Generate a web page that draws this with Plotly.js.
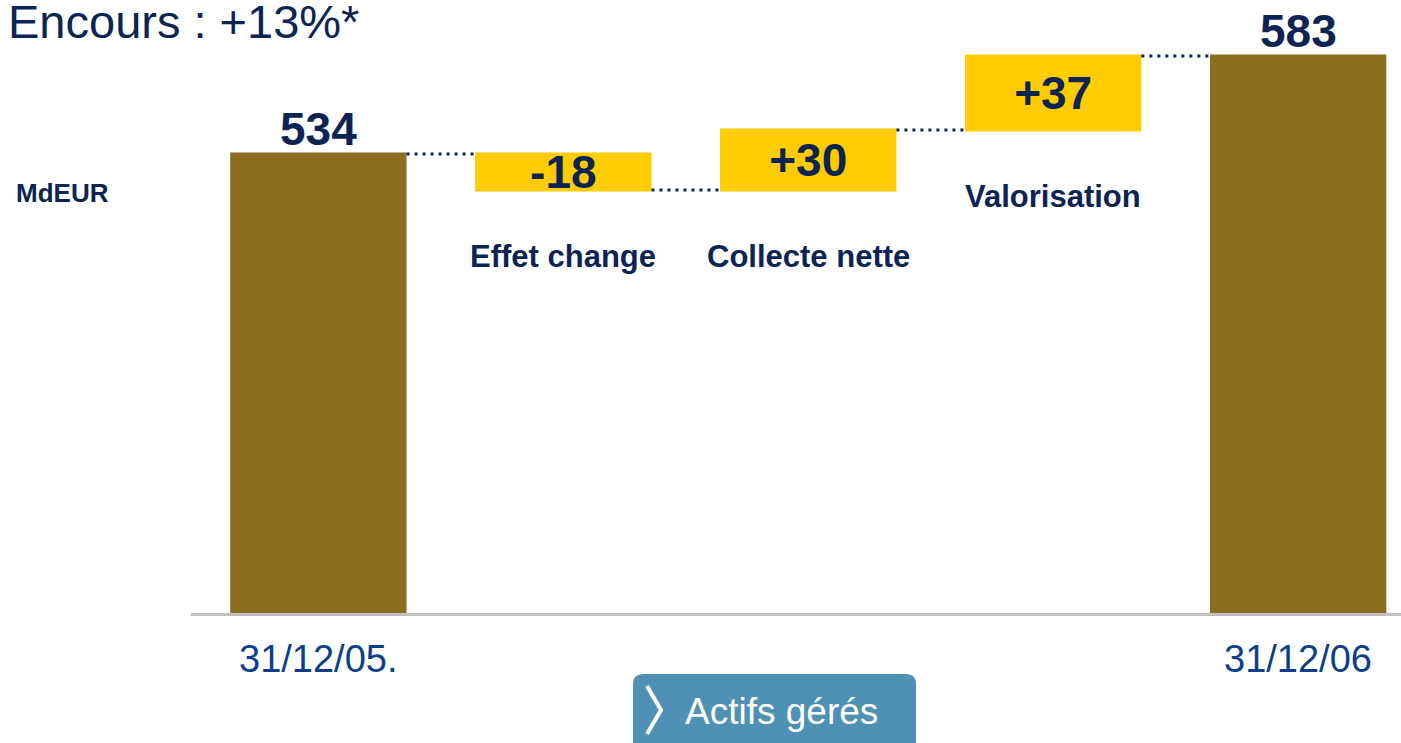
<!DOCTYPE html>
<html>
<head>
<meta charset="utf-8">
<script src="https://cdn.plot.ly/plotly-3.0.1.min.js"></script>
<style>
  html, body { margin: 0; padding: 0; background: #fff; }
  #plot { width: 1401px; height: 743px; }
</style>
</head>
<body>
<div id="plot"></div>
<script>
// Waterfall data (MdEUR)
var categories = ["31/12/05.", "Effet change", "Collecte nette", "Valorisation", "31/12/06"];
var measures = ["absolute", "relative", "relative", "relative", "absolute"];
var values = [534, -18, 30, 37, 583];
var valueLabels = ["534", "-18", "+30", "+37", "583"];
var tickLabels = ["31/12/05.", "", "", "", "31/12/06"];

var navy = "#0B2453";
var font = "Liberation Sans, Arial, sans-serif";

// running totals, used to place the category names under each floating bar
var bottoms = [];
var cum = 0;
values.forEach(function(v, i) {
  if (measures[i] === "absolute") {
    bottoms.push(v);
    cum = v;
  } else {
    bottoms.push(Math.min(cum, cum + v));
    cum = cum + v;
  }
});

var trace1 = {
  type: "waterfall",
  x: categories,
  y: values,
  measure: measures,
  text: valueLabels,
  textinfo: "text",
  // totals get their label as an annotation (a bit closer to the bar)
  textposition: measures.map(function(m) { return m === "absolute" ? "none" : "inside"; }),
  insidetextanchor: "middle",
  constraintext: "none",
  cliponaxis: false,
  textfont: { family: font, size: 46, color: navy, weight: "bold" },
  width: 0.72,
  totals: { marker: { color: "#8A6D1E" } },
  increasing: { marker: { color: "#FFCC00" } },
  decreasing: { marker: { color: "#FFCC00" } },
  connector: { mode: "between", line: { color: navy, width: 3, dash: "3px,5px" } },
  hoverinfo: "none"
};

// pixel -> paper helpers for the decoration (plot area 191..1401 x 0..613)
function px(x) { return (x - 191) / 1210; }
function py(y) { return (613 - y) / 613; }

var annotations = [];

categories.forEach(function(c, i) {
  if (measures[i] === "relative") {
    // category names below the floating bars
    annotations.push({
      x: c, y: bottoms[i], xref: "x", yref: "y",
      text: "<b>" + c + "</b>", showarrow: false,
      yanchor: "middle", yshift: -66,
      font: { family: font, size: 31, color: navy }
    });
  } else {
    // value labels on top of the total bars
    annotations.push({
      x: c, y: values[i], xref: "x", yref: "y",
      text: "<b>" + valueLabels[i] + "</b>", showarrow: false,
      yanchor: "bottom", yshift: -3,
      font: { family: font, size: 46, color: navy }
    });
  }
});

// date labels under the axis
tickLabels.forEach(function(t, i) {
  if (t) {
    annotations.push({
      x: categories[i], y: 0, xref: "x", yref: "paper",
      text: t, showarrow: false, yanchor: "middle", yshift: -46,
      font: { family: font, size: 38, color: "#0B3F8C" }
    });
  }
});

annotations.push({
  x: px(14), y: py(193), xref: "paper", yref: "paper",
  xanchor: "left", yanchor: "middle", showarrow: false,
  text: "<b>MdEUR</b>",
  font: { family: font, size: 26, color: navy }
});

annotations.push({
  x: px(683), y: py(711), xref: "paper", yref: "paper",
  xanchor: "left", yanchor: "middle", showarrow: false,
  text: "Actifs gérés",
  font: { family: font, size: 37, color: "#ffffff" }
});

// rounded button + chevron
var bx0 = px(633), bx1 = px(916), by0 = py(674), by1 = py(760);
var rx = 10 / 1210, ry = 10 / 613;
var shapes = [
  {
    type: "path", xref: "paper", yref: "paper",
    path: "M " + (bx0 + rx) + "," + by0 +
      " L " + (bx1 - rx) + "," + by0 +
      " Q " + bx1 + "," + by0 + " " + bx1 + "," + (by0 - ry) +
      " L " + bx1 + "," + by1 +
      " L " + bx0 + "," + by1 +
      " L " + bx0 + "," + (by0 - ry) +
      " Q " + bx0 + "," + by0 + " " + (bx0 + rx) + "," + by0 + " Z",
    fillcolor: "#4F91B4", line: { width: 0 }, layer: "above"
  },
  {
    type: "path", xref: "paper", yref: "paper",
    path: "M " + px(647) + "," + py(686) + " L " + px(661) + "," + py(710) + " L " + px(647) + "," + py(734),
    line: { color: "#ffffff", width: 4 }, layer: "above"
  }
];

var layout = {
  title: {
    text: "Encours : +13%*",
    font: { family: font, size: 47, color: navy },
    x: 8 / 1401, xanchor: "left", xref: "container",
    y: 1 - 22 / 743, yanchor: "middle", yref: "container",
    pad: { t: 0, l: 0 }
  },
  width: 1401,
  height: 743,
  margin: { l: 191, r: 0, t: 0, b: 130 },
  paper_bgcolor: "#ffffff",
  plot_bgcolor: "#ffffff",
  showlegend: false,
  xaxis: {
    type: "category",
    range: [-0.52, 4.42],
    showline: true, linecolor: "#C0C0C0", linewidth: 3,
    showticklabels: false, ticks: "", showgrid: false, zeroline: false,
    fixedrange: true
  },
  yaxis: {
    range: [304.5, 611],
    visible: false, showgrid: false, zeroline: false,
    fixedrange: true
  },
  annotations: annotations,
  shapes: shapes
};

Plotly.newPlot("plot", [trace1], layout, { displayModeBar: false, staticPlot: true });
</script>
</body>
</html>
